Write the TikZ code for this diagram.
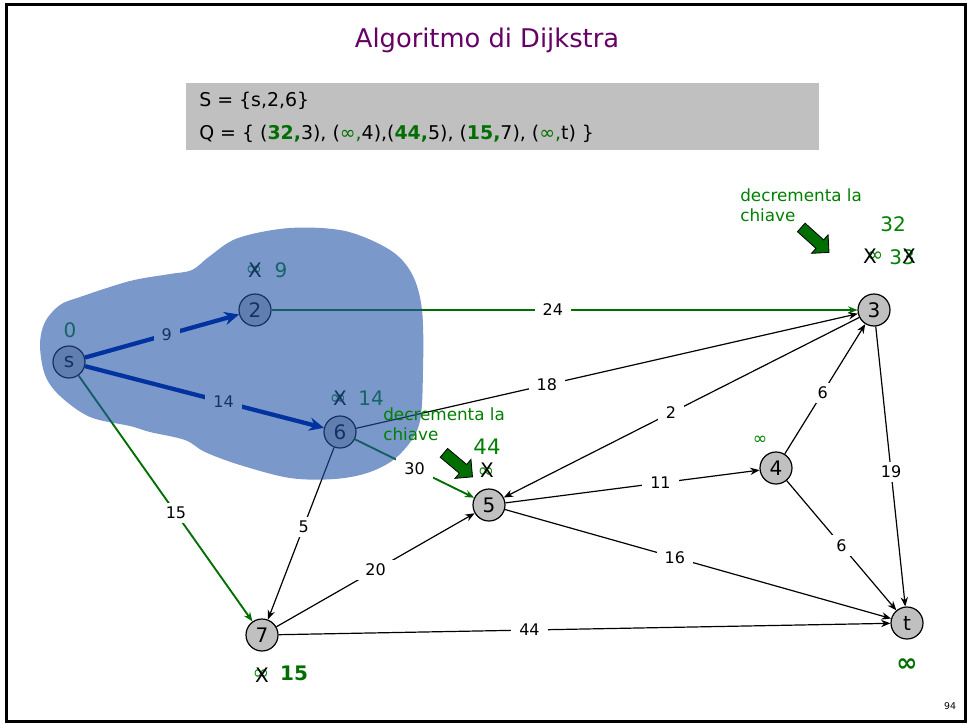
\documentclass[tikz,border=0pt]{standalone}
\usepackage{fontspec}
\setmainfont{DejaVu Sans}
\usetikzlibrary{arrows.meta,shapes.arrows}
\definecolor{ngray}{RGB}{192,192,192}
\definecolor{dgreen}{RGB}{0,110,0}
\definecolor{tgreen}{RGB}{0,128,0}
\definecolor{purp}{RGB}{102,0,102}
\definecolor{blobc}{RGB}{35,83,168}
\definecolor{blobvis}{RGB}{123,152,203}
\definecolor{navy}{RGB}{0,51,160}
\definecolor{navytext}{RGB}{21,50,101}
\begin{document}
\begin{tikzpicture}[x=0.75pt,y=-0.75pt,
  vtx/.style={circle,draw,line width=0.9pt,fill=ngray,minimum size=24pt,inner sep=0pt,font=\fontsize{15}{17}\selectfont},
  wlab/.style={fill=white,text=black,inner xsep=6pt,inner ysep=3pt,font=\fontsize{12}{14}\selectfont},
  edg/.style={line width=0.9pt,-{Stealth[length=7pt,width=5.5pt]}},
  gedg/.style={dgreen,line width=1.4pt,-{Stealth[length=7pt,width=5.5pt]}},
  bedg/.style={navy,line width=3.2pt,-{Stealth[length=11pt,width=10pt]}},
  blab/.style={fill=blobvis,text=navytext,inner xsep=6pt,inner ysep=3pt,font=\fontsize{12}{14}\selectfont},
  dist/.style={text=tgreen,inner sep=0pt,font=\fontsize{15}{17}\selectfont},
  sinf/.style={text=tgreen,inner sep=0pt,font=\fontsize{15}{17}\selectfont},
  xmark/.style={text=black,inner sep=0pt,font=\fontsize{15}{17}\selectfont},
  note/.style={text=tgreen,align=left,anchor=north west,inner sep=0pt,font=\fontsize{12.6}{15}\selectfont},
  fatarrow/.style={single arrow,draw=black,fill=dgreen,line width=0.6pt,inner sep=4pt,single arrow head extend=5pt,minimum height=28pt}
]
\useasboundingbox (0,0) rectangle (969,724);
\draw[line width=2.25pt] (6,5) rectangle (965,721);
\node[text=purp,font=\fontsize{19.3}{22}\selectfont] (title) at (487,40) {Algoritmo di Dijkstra};
\node[fill=ngray,minimum width=633*0.75pt,minimum height=67*0.75pt,anchor=north west,inner sep=0pt] (box) at (186,83) {};
\node[anchor=west,inner sep=0pt,font=\fontsize{14.2}{16}\selectfont] (sline) at (199,101) {S = \{s,2,6\}};
\node[anchor=west,inner sep=0pt,font=\fontsize{14.2}{16}\selectfont] (qline) at (199,134) {Q = \{ (\textcolor{dgreen}{\textbf{32,}}3), (\textcolor{dgreen}{∞,}4),(\textcolor{dgreen}{\textbf{44,}}5), (\textcolor{dgreen}{\textbf{15,}}7), (\textcolor{dgreen}{∞,}t) \}};
\node[font=\fontsize{7}{8}\selectfont] (pnum) at (950,706) {94};

% vertices
\node[vtx] (s) at (69,362) {s};
\node[vtx] (n2) at (255,310) {2};
\node[vtx] (n6) at (340,432) {6};
\node[vtx] (n3) at (874,310) {3};
\node[vtx] (n5) at (489,505) {5};
\node[vtx] (n4) at (776,468) {4};
\node[vtx] (n7) at (262,635) {7};
\node[vtx] (t) at (907,623) {t};

% edges under the set
\draw[gedg] (s) -- node[wlab,pos=0.56] {15} (n7);
\draw[gedg] (n2) -- node[wlab,pos=0.48] {24} (n3);
\draw[edg] (n6) -- node[wlab,pos=0.38] {18} (n3);
\draw[gedg] (n6) -- node[wlab,pos=0.5] {30} (n5);
\draw[edg] (n6) -- node[wlab,pos=0.46] {5} (n7);
\draw[edg] (n3) -- node[wlab,pos=0.53] {2} (n5);
\draw[edg] (n5) -- node[wlab,pos=0.61] {11} (n4);
\draw[edg] (n4) -- node[wlab,pos=0.47] {6} (n3);
\draw[edg] (n3) -- node[wlab,pos=0.52] {19} (t);
\draw[edg] (n4) -- node[wlab,pos=0.5] {6} (t);
\draw[edg] (n5) -- node[wlab,pos=0.44] {16} (t);
\draw[edg] (n7) -- node[wlab,pos=0.5] {20} (n5);
\draw[edg] (n7) -- node[wlab,pos=0.41] {44} (t);

% distance labels
\node[dist] (d0) at (70,330) {0};
\node[sinf] (i2) at (254,271) {∞};
\node[xmark] (x2) at (255,270) {X};
\node[dist] (d2) at (281,270) {9};
\node[sinf] (i6) at (338,400) {∞};
\node[xmark] (x6) at (340,398) {X};
\node[dist] (d6) at (371,398) {14};
\node[dist,font=\fontsize{16}{18}\selectfont] (d5) at (487,447) {44};
\node[sinf] (i5) at (486,473) {∞};
\node[xmark] (x5) at (487,470) {X};
\node[dist] (d3) at (893,224) {32};
\node[sinf] (i3) at (875,257) {∞};
\node[xmark] (x3a) at (870,256) {X};
\node[dist] (d3b) at (902,257) {33};
\node[xmark] (x3b) at (909,256) {X};
\node[sinf] (i7) at (261,675) {∞};
\node[xmark] (x7) at (262,675) {X};
\node[dist,font=\bfseries\fontsize{15}{17}\selectfont,text=dgreen] (d7) at (294,673) {15};
\node[sinf,font=\fontsize{13}{15}\selectfont] (i4) at (760,440) {∞};
\node[dist,font=\bfseries\fontsize{19}{21}\selectfont,text=dgreen] (dt) at (907,665) {∞};

% the set S
\fill[blobc,opacity=0.6] plot[smooth cycle,tension=0.55] coordinates {
 (40,345) (45,322) (60,305) (80,297) (130,281) (170,274) (192,270) (210,256) (238,238) (290,228) (345,231)
 (390,250) (412,274) (422,310) (423,370) (419,425) (398,456) (370,472) (335,479)
 (290,478) (240,465) (205,452) (185,440) (150,432) (130,426) (90,417) (60,396) (45,375)};

% blue edges on top
\draw[bedg] (s) -- node[blab,pos=0.53] {9} (n2);
\draw[bedg] (s) -- node[blab,pos=0.58] {14} (n6);

% notes
\node[note] (note1) at (740,188) {decrementa la\\chiave};
\node[note] (note2) at (383,407) {decrementa la\\chiave};
\node[fatarrow,rotate=-42] (fa1) at (813,238) {};
\node[fatarrow,rotate=-40] (fa2) at (456,463) {};
\end{tikzpicture}
\end{document}
